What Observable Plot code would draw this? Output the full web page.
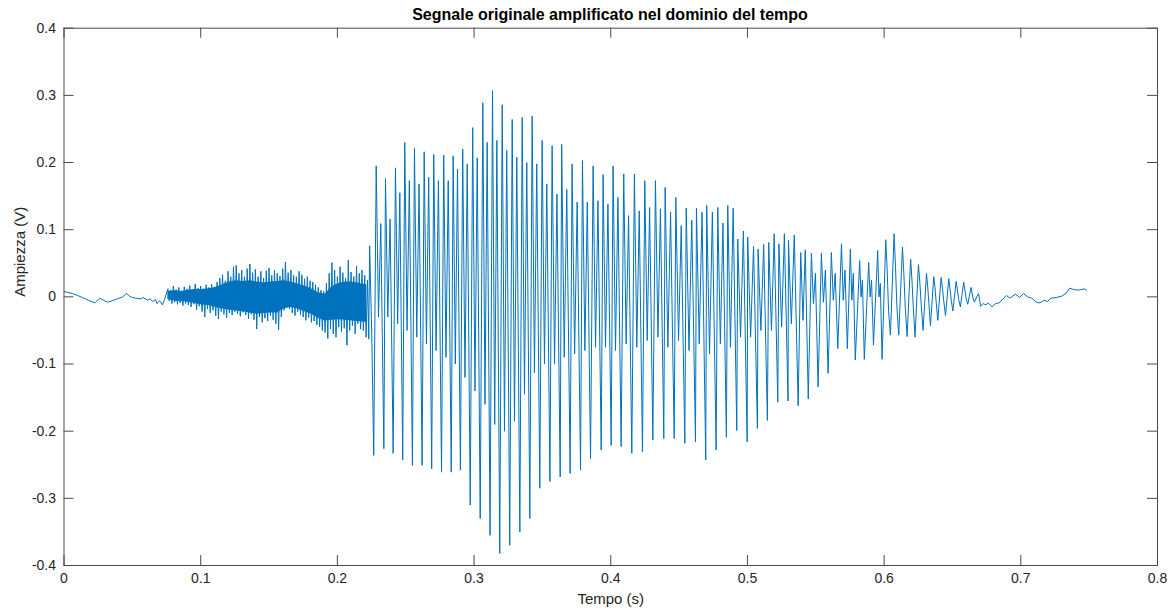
<!DOCTYPE html>
<html><head><meta charset="utf-8">
<script src="https://cdn.jsdelivr.net/npm/d3@7"></script>
<script src="https://cdn.jsdelivr.net/npm/@observablehq/plot@0.6"></script>
<style>
body{margin:0;background:#fff;font-family:"Liberation Sans",Arial,sans-serif;}
#wrap{position:relative;width:1176px;height:615px;}
#title{position:absolute;left:63px;width:1094px;top:5px;text-align:center;font-weight:bold;font-size:16px;color:#000;line-height:20px;}
#chart{position:absolute;left:0;top:0;}
</style></head><body>
<div id="wrap"><div id="chart"></div><div id="title">Segnale originale amplificato nel dominio del tempo</div></div>
<script>
// ---- tick labels ----
const xTicks = [0, 0.1, 0.2, 0.3, 0.4, 0.5, 0.6, 0.7, 0.8];
const yTicks = [-0.4, -0.3, -0.2, -0.1, 0, 0.1, 0.2, 0.3, 0.4];

// ---- silence at the start (time s, amplitude V) ----
const begT = [0.000,0.002,0.006,0.010,0.0145,0.019,0.0226,0.026,0.029,0.0316,0.035,0.039,0.043,0.0457,0.048,0.050,0.053,0.056,0.058,0.061,0.063,0.065,0.067,0.068,0.070,0.072,0.0735];
const begV = [0.008,0.007,0.005,0.002,-0.002,-0.006,-0.009,-0.002,-0.005,-0.008,-0.006,-0.003,0.000,0.005,0.001,-0.001,-0.002,-0.003,-0.001,-0.005,-0.003,-0.007,-0.004,-0.010,-0.006,-0.012,-0.004];

// ---- unvoiced noise 0.076 .. 0.222 s: spikes, one high / one low every 2 ms ----
const noiseStart = 0.076, noiseStep = 0.002;
const noiseHi = [0.012,0.010,0.016,0.011,0.014,0.009,0.015,0.012,0.017,0.011,
  0.019,0.013,0.016,0.012,0.018,0.014,0.019,0.015,0.022,0.028,
  0.033,0.024,0.038,0.030,0.045,0.047,0.035,0.040,0.030,0.042,
  0.049,0.036,0.041,0.030,0.038,0.028,0.039,0.043,0.032,0.040,
  0.035,0.031,0.042,0.052,0.036,0.040,0.032,0.030,0.038,0.033,
  0.027,0.030,0.024,0.022,0.018,0.014,0.010,0.008,0.020,0.035,
  0.051,0.040,0.030,0.045,0.036,0.028,0.055,0.037,0.030,0.046,
  0.035,0.040,0.032,0.025];
const noiseLo = [-0.006,-0.010,-0.008,-0.011,-0.009,-0.013,-0.010,-0.012,-0.015,-0.011,
  -0.019,-0.014,-0.022,-0.030,-0.018,-0.024,-0.020,-0.028,-0.033,-0.022,
  -0.026,-0.031,-0.024,-0.027,-0.022,-0.025,-0.029,-0.023,-0.027,-0.033,
  -0.026,-0.034,-0.048,-0.030,-0.038,-0.032,-0.036,-0.028,-0.034,-0.040,
  -0.049,-0.030,-0.020,-0.012,-0.018,-0.024,-0.028,-0.022,-0.027,-0.030,
  -0.035,-0.031,-0.038,-0.036,-0.042,-0.045,-0.050,-0.053,-0.062,-0.048,
  -0.055,-0.060,-0.045,-0.052,-0.047,-0.072,-0.050,-0.043,-0.055,-0.040,
  -0.048,-0.050,-0.060,-0.063];

// ---- dense core of the noise band (every 5 ms) ----
const coreT  = [0.076,0.081,0.086,0.091,0.096,0.101,0.106,0.111,0.116,0.121,
  0.126,0.131,0.136,0.141,0.146,0.151,0.156,0.161,0.166,0.171,
  0.176,0.181,0.186,0.191,0.196,0.201,0.206,0.211,0.216,0.2215];
const coreHi = [0.008,0.009,0.008,0.010,0.011,0.011,0.012,0.014,0.018,0.022,
  0.024,0.023,0.024,0.022,0.021,0.022,0.023,0.024,0.022,0.019,
  0.016,0.012,0.006,0.004,0.015,0.020,0.022,0.022,0.020,0.018];
const coreLo = [-0.004,-0.006,-0.007,-0.008,-0.010,-0.012,-0.013,-0.016,-0.018,-0.020,
  -0.021,-0.022,-0.024,-0.026,-0.025,-0.024,-0.024,-0.018,-0.016,-0.018,
  -0.022,-0.026,-0.032,-0.036,-0.035,-0.034,-0.035,-0.036,-0.037,-0.038];

// ---- voicing onset ----
const onsetT = [0.2230, 0.2236, 0.2252];
const onsetV = [-0.050, 0.076, -0.060];

// ---- voiced part: one entry per pitch cycle ----
const troughT = [0.2266,0.2340,0.2408,0.2478,0.2549,0.2620,0.2690,0.2762,
  0.2833,0.2900,0.2972,0.3045,0.3117,0.3188,0.3261,0.3335,
  0.3408,0.3481,0.3555,0.3630,0.3703,0.3779,0.3852,0.3930,
  0.4003,0.4076,0.4154,0.4232,0.4308,0.4388,0.4464,0.4542,
  0.4620,0.4695,0.4771,0.4846,0.4922,0.4998,0.5073,0.5146,
  0.5222,0.5297,0.5371,0.5445,0.5517,0.5590,0.5661,0.5731,
  0.5789,0.5855,0.5922,0.5985,0.6046,0.6107,0.6168,0.6226,
  0.6285,0.6339,0.6393,0.6449,0.6503,0.6558,0.6612,0.6660];
const troughV = [-0.236,-0.226,-0.233,-0.243,-0.251,-0.251,-0.256,-0.261,
  -0.261,-0.258,-0.310,-0.330,-0.355,-0.382,-0.370,-0.350,
  -0.330,-0.285,-0.275,-0.268,-0.263,-0.258,-0.241,-0.228,
  -0.221,-0.223,-0.233,-0.231,-0.213,-0.211,-0.211,-0.218,
  -0.216,-0.243,-0.228,-0.209,-0.199,-0.216,-0.196,-0.184,
  -0.157,-0.155,-0.162,-0.152,-0.134,-0.114,-0.077,-0.077,
  -0.094,-0.093,-0.072,-0.093,-0.057,-0.057,-0.059,-0.060,
  -0.050,-0.043,-0.035,-0.028,-0.021,-0.015,-0.011,-0.008];
const peakT = [0.2284,0.2352,0.2425,0.2493,0.2564,0.2635,0.2705,0.2778,
  0.2847,0.2917,0.2990,0.3064,0.3135,0.3206,0.3279,0.3352,
  0.3425,0.3498,0.3571,0.3641,0.3717,0.3793,0.3871,0.3944,
  0.4017,0.4095,0.4173,0.4249,0.4327,0.4398,0.4476,0.4552,
  0.4627,0.4702,0.4783,0.4856,0.4929,0.5002,0.5078,0.5156,
  0.5230,0.5300,0.5390,0.5468,0.5541,0.5614,0.5688,0.5753,
  0.5821,0.5887,0.5953,0.6012,0.6073,0.6134,0.6194,0.6251,
  0.6310,0.6363,0.6417,0.6473,0.6527,0.6582,0.6636,0.6690];
const peakV = [0.195,0.176,0.192,0.230,0.221,0.216,0.212,0.211,
  0.210,0.220,0.252,0.289,0.307,0.286,0.264,0.267,
  0.269,0.233,0.225,0.227,0.198,0.203,0.195,0.182,
  0.195,0.183,0.183,0.173,0.173,0.163,0.148,0.132,
  0.132,0.136,0.133,0.136,0.086,0.089,0.071,0.081,
  0.079,0.084,0.066,0.065,0.065,0.066,0.079,0.071,
  0.054,0.051,0.069,0.085,0.094,0.074,0.056,0.048,
  0.035,0.030,0.029,0.027,0.023,0.022,0.014,0.005];
const dipV = [-0.030,-0.030,-0.040,-0.050,-0.060,-0.070,-0.080,-0.090,
  -0.100,-0.120,-0.140,-0.160,-0.190,-0.200,-0.185,-0.145,
  -0.113,-0.100,-0.100,-0.090,-0.085,-0.080,-0.075,-0.075,
  -0.080,-0.070,-0.075,-0.065,-0.060,-0.075,-0.065,-0.080,
  -0.070,-0.085,-0.070,-0.075,-0.060,-0.060,-0.050,-0.050,
  -0.045,-0.040,-0.035,-0.010,-0.008,-0.005,-0.005,-0.005,
  0.000,0.000,0.000,0.040,0.045,0.035,0.025,0.022,
  0.016,0.014,0.013,0.012,0.010,0.010,0.006,0.001];
const secV = [0.109,0.116,0.155,0.173,0.168,0.178,0.173,0.173,
  0.190,0.198,0.207,0.230,0.233,0.218,0.208,0.200,
  0.198,0.168,0.153,0.160,0.141,0.141,0.143,0.138,
  0.148,0.121,0.128,0.133,0.131,0.126,0.106,0.114,
  0.126,0.126,0.110,0.132,0.098,0.075,0.078,0.094,
  0.094,0.092,0.070,0.035,0.040,0.035,0.040,0.035,
  0.025,0.025,0.020,-0.020,-0.015,-0.015,-0.015,-0.012,
  -0.010,-0.008,-0.006,-0.005,-0.004,-0.003,-0.002,-0.004];

// ---- decay / silence at the end ----
const tailT = [0.6705,0.6725,0.6745,0.6760,0.6790,0.6815,0.6840,0.6865,0.6895,0.6920,0.6960,0.6990,0.7020,0.7050,0.7080,0.7114,0.7140,0.7170,0.7195,0.7220,0.7260,0.7300,0.7330,0.7357,0.7385,0.7420,0.7445,0.7465,0.7480];
const tailV = [-0.014,-0.010,-0.012,-0.009,-0.015,-0.010,-0.009,-0.004,0.002,-0.002,0.004,-0.001,0.005,0.000,-0.002,-0.008,-0.009,-0.005,-0.007,-0.002,-0.001,0.001,0.005,0.013,0.011,0.010,0.011,0.012,0.010];

// ---- build the waveform vertex list ----
const pts = [];
begT.forEach((t, i) => pts.push({t, v: begV[i]}));
noiseHi.forEach((h, i) => {
  const t = noiseStart + i * noiseStep;
  pts.push({t, v: h});
  pts.push({t: t + noiseStep / 2, v: noiseLo[i]});
});
onsetT.forEach((t, i) => pts.push({t, v: onsetV[i]}));
const nC = Math.min(troughT.length, peakT.length, troughV.length, peakV.length, dipV.length, secV.length);
for (let k = 0; k < nC; k++) {
  pts.push({t: troughT[k], v: troughV[k]});
  pts.push({t: peakT[k], v: peakV[k]});
  const next = k + 1 < nC ? troughT[k + 1] : tailT[0];
  const dt = next - peakT[k];
  pts.push({t: peakT[k] + 0.3 * dt, v: dipV[k]});
  pts.push({t: peakT[k] + 0.6 * dt, v: secV[k]});
}
tailT.forEach((t, i) => pts.push({t, v: tailV[i]}));
const core = coreT.map((t, i) => ({t, hi: coreHi[i], lo: coreLo[i]}));

// ---- layout ----
const W = 1176, H = 615, mL = 63.5, mR = 19, mT = 27.7, mB = 50;
const plotW = W - mL - mR, plotH = H - mT - mB, tickLen = 10;
const fmt = d => String(+d.toFixed(1));
const axisCol = "#262626", frameCol = "#4a4a4a", lineCol = "#0072BD";

const chart = Plot.plot({
  width: W, height: H,
  marginLeft: mL, marginRight: mR, marginTop: mT, marginBottom: mB,
  style: {fontFamily: '"Liberation Sans", Arial, sans-serif', fontSize: "14px", color: axisCol, background: "#fff"},
  x: {domain: [0, 0.8], axis: null},
  y: {domain: [-0.4, 0.4], axis: null},
  marks: [
    Plot.areaY(core, {x: "t", y1: "lo", y2: "hi", fill: lineCol, curve: "linear"}),
    Plot.line(pts, {x: "t", y: "v", stroke: lineCol, strokeWidth: 1}),
    Plot.frame({stroke: frameCol, strokeWidth: 1}),
    Plot.ruleX(xTicks, {x: d => d, insetTop: plotH - tickLen, stroke: frameCol}),
    Plot.ruleX(xTicks, {x: d => d, insetBottom: plotH - tickLen, stroke: frameCol}),
    Plot.ruleY(yTicks, {y: d => d, insetRight: plotW - tickLen, stroke: frameCol}),
    Plot.ruleY(yTicks, {y: d => d, insetLeft: plotW - tickLen, stroke: frameCol}),
    Plot.axisX(xTicks, {anchor: "bottom", tickSize: 0, tickPadding: 8, tickFormat: fmt, label: null, fill: axisCol}),
    Plot.axisY(yTicks, {anchor: "left", tickSize: 0, tickPadding: 8, tickFormat: fmt, label: null, fill: axisCol}),
    Plot.text(["Tempo (s)"], {frameAnchor: "bottom", dy: 38, text: d => d, fontSize: 15, fill: axisCol}),
    Plot.text(["Ampiezza (V)"], {frameAnchor: "left", dx: -44, rotate: -90, text: d => d, fontSize: 15, fill: axisCol})
  ]
});
document.getElementById("chart").appendChild(chart);
</script>
</body></html>
